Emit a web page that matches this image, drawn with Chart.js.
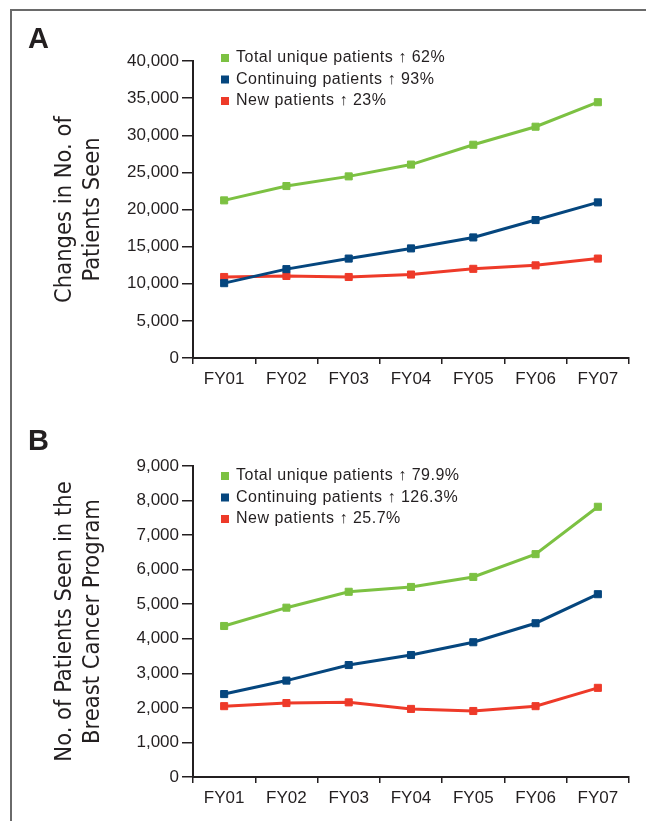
<!DOCTYPE html>
<html>
<head>
<meta charset="utf-8">
<script src="https://cdn.jsdelivr.net/npm/chart.js@4.4.1/dist/chart.umd.min.js"></script>
<style>
  html, body { margin: 0; padding: 0; background: #fff; }
  #page { position: relative; width: 646px; height: 821px; overflow: hidden; background: #fff; }
  #frame { position: absolute; left: 10px; top: 9px; width: 700px; height: 900px; border-top: 2px solid #6a6a6a; border-left: 2px solid #6a6a6a; }
  .letter { position: absolute; font: bold 29px 'Liberation Sans', Arial, sans-serif; line-height: 29px; color: #231f20; }
  canvas { position: absolute; left: 0; }
</style>
</head>
<body>
<div id="page">
  <div id="frame"></div>
  <canvas id="chartA" width="646" height="410" style="top:0"></canvas>
  <canvas id="chartB" width="646" height="411" style="top:410px"></canvas>
  <div class="letter" style="left:28px;top:24px">A</div>
  <div class="letter" style="left:28px;top:426px">B</div>
</div>
<script>
const years = ['FY01', 'FY02', 'FY03', 'FY04', 'FY05', 'FY06', 'FY07'];

// panel A - all patients
const totalA = [21230, 23160, 24460, 26050, 28720, 31150, 34450];
const continuingA = [10080, 11970, 13390, 14760, 16240, 18580, 20960];
const newA = [10910, 11050, 10910, 11240, 12010, 12480, 13390];
const labelsA = ['Total unique patients \u2191 62%', 'Continuing patients \u2191 93%', 'New patients \u2191 23%'];

// panel B - breast cancer program
const totalB = [4370, 4900, 5360, 5500, 5790, 6450, 7820];
const continuingB = [2400, 2790, 3240, 3530, 3900, 4450, 5290];
const newB = [2050, 2140, 2160, 1970, 1910, 2050, 2580];
const labelsB = ['Total unique patients \u2191 79.9%', 'Continuing patients \u2191 126.3%', 'New patients \u2191 25.7%'];

const GREEN = '#7cc142';
const BLUE = '#05467e';
const RED = '#ee3a29';
const INK = '#231f20';
const SANS = "'Liberation Sans', Arial, sans-serif";
const NARROW = "'Liberation Sans Narrow', 'DejaVu Sans Condensed', Arial, sans-serif";

// legend drawn inside the plot, top left
const insideLegend = {
  id: 'insideLegend',
  afterDatasetsDraw(chart, args, opts) {
    const ctx = chart.ctx;
    const area = chart.chartArea;
    ctx.save();
    ctx.font = '16px ' + SANS;
    if ('letterSpacing' in ctx) ctx.letterSpacing = '0.5px';
    ctx.textBaseline = 'middle';
    chart.data.datasets.forEach((ds, i) => {
      const y = area.top + opts.top + i * opts.gap;
      ctx.fillStyle = ds.borderColor;
      ctx.fillRect(area.left + 28, y - 4, 8, 8);
      ctx.fillStyle = INK;
      ctx.fillText(ds.label, area.left + 43, y);
    });
    ctx.restore();
  }
};

function line(label, data, color) {
  return {
    label: label,
    data: data,
    borderColor: color,
    backgroundColor: color,
    borderWidth: 3,
    tension: 0,
    pointStyle: 'rect',
    pointRadius: 5,
    pointBorderWidth: 1,
    pointBackgroundColor: color,
    pointBorderColor: color
  };
}

function makePanel(id, series, labels, yMax, yStep, yTitle, padTop, xHeight, legendTop) {
  return new Chart(document.getElementById(id), {
    type: 'line',
    data: {
      labels: years,
      datasets: [
        line(labels[0], series[0], GREEN),
        line(labels[1], series[1], BLUE),
        line(labels[2], series[2], RED)
      ]
    },
    options: {
      responsive: false,
      animation: false,
      devicePixelRatio: 1,
      layout: { padding: { left: 0, top: padTop, right: 17, bottom: 0 } },
      plugins: {
        legend: { display: false },
        tooltip: { enabled: false },
        insideLegend: { top: legendTop, gap: 21.5 }
      },
      scales: {
        x: {
          offset: true,
          afterFit(scale) { scale.height = xHeight; },
          grid: { offset: true, drawOnChartArea: false, tickLength: 6, color: INK, lineWidth: 1.5 },
          border: { display: true, color: INK, width: 2 },
          ticks: { color: INK, padding: 5, font: { family: SANS, size: 17 }, maxRotation: 0 }
        },
        y: {
          min: 0,
          max: yMax,
          afterFit(scale) { scale.width = 193; },
          grid: { drawOnChartArea: false, tickLength: 11, color: INK, lineWidth: 1.5 },
          border: { display: true, color: INK, width: 2 },
          ticks: {
            stepSize: yStep,
            color: INK,
            padding: 3,
            font: { family: SANS, size: 17 },
            callback: v => v.toLocaleString('en-US')
          },
          title: {
            display: true,
            text: yTitle,
            color: INK,
            padding: { top: 51, bottom: 0 },
            font: { family: NARROW, size: 23.5, lineHeight: 1.2 }
          }
        }
      }
    },
    plugins: [insideLegend]
  });
}

makePanel('chartA', [totalA, continuingA, newA], labelsA, 40000, 5000,
  ['Changes in No. of', 'Patients Seen'], 61, 52, -3);
makePanel('chartB', [totalB, continuingB, newB], labelsB, 9000, 1000,
  ['No. of Patients Seen in the', 'Breast Cancer Program'], 56, 44, 10);
</script>
</body>
</html>
